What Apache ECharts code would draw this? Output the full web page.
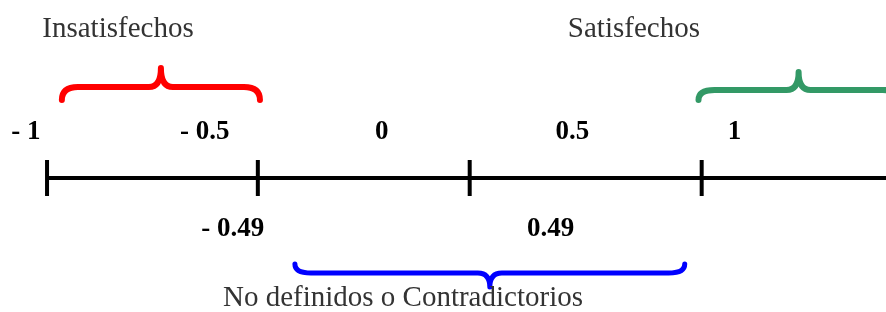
<!DOCTYPE html>
<html>
<head>
<meta charset="utf-8">
<script src="https://cdn.jsdelivr.net/npm/echarts@6/dist/echarts.min.js"></script>
<style>
  html, body { margin: 0; padding: 0; background: #fff; }
  #main { width: 886px; height: 312px; }
</style>
</head>
<body>
<div id="main"></div>
<script>
// schematic axis: one unit ~ one segment of the number line
const tickPos = [0, 0.995, 1.995, 3.09]
const lineEnd = 4

const topLabels = ['- 1', '- 0.5', '0', '0.5', '1']
const topLabelPos = [-0.1, 0.745, 1.58, 2.48, 3.245]
const bottomLabels = ['- 0.49', '0.49']
const bottomLabelPos = [0.877, 2.377]

const groupNames = ['Insatisfechos', 'Satisfechos', 'No definidos o Contradictorios']
const groupNamePos = [[0.335, 2.97], [2.77, 2.97], [1.68, -2.4]]

// brace: [start, end, endY, barY, tipY]
const braceRed = [0.07, 1.005, 1.56, 1.82, 2.2]
const braceGreen = [3.075, 4.02, 1.56, 1.76, 2.12]
const braceBlue = [1.17, 3.01, -1.72, -1.9, -2.18]
const braceColors = ['#ff0000', '#339966', '#0000ff']

const fontFamily = '"Liberation Serif", "Times New Roman", serif'

const myChart = echarts.init(document.getElementById('main'))

const labelSeries = (name, texts, points, style) => ({
  type: 'scatter',
  name: name,
  symbolSize: 0,
  silent: true,
  itemStyle: { opacity: 1 },
  data: texts.map((t, i) => ({ value: points[i], name: t })),
  label: Object.assign({
    show: true,
    position: [0, 0],
    align: 'center',
    verticalAlign: 'middle',
    formatter: p => p.name,
    fontFamily: fontFamily
  }, style)
})

const renderBrace = (params, api) => {
  const a = api.coord([api.value(0), api.value(2)])
  const b = api.coord([api.value(1), api.value(2)])
  const h = api.coord([api.value(0), api.value(3)])[1]
  const t = api.coord([api.value(0), api.value(4)])[1]
  const x0 = a[0], x1 = b[0], ye = a[1], xm = (x0 + x1) / 2
  const r = 16, r2 = 12
  const d = 'M' + x0 + ' ' + ye +
    ' Q' + x0 + ' ' + h + ' ' + (x0 + r) + ' ' + h +
    ' L' + (xm - r2) + ' ' + h +
    ' Q' + xm + ' ' + h + ' ' + xm + ' ' + t +
    ' Q' + xm + ' ' + h + ' ' + (xm + r2) + ' ' + h +
    ' L' + (x1 - r) + ' ' + h +
    ' Q' + x1 + ' ' + h + ' ' + x1 + ' ' + ye
  return {
    type: 'path',
    shape: { pathData: d },
    style: {
      fill: 'none',
      stroke: braceColors[params.dataIndex],
      lineWidth: params.dataIndex === 2 ? 5 : 6,
      lineCap: 'round',
      lineJoin: 'round'
    }
  }
}

const option = {
  animation: false,
  backgroundColor: '#fff',
  grid: { left: 0, right: 0, top: 0, bottom: 0 },
  xAxis: { type: 'value', min: -0.222, max: 3.96, show: false },
  yAxis: { type: 'value', min: -2.68, max: 3.56, show: false },
  series: [
    {
      type: 'line',
      data: [[tickPos[0], 0], [lineEnd, 0]],
      symbol: 'none',
      lineStyle: { color: '#000', width: 4 },
      silent: true
    },
    {
      type: 'scatter',
      symbol: 'rect',
      symbolSize: [4, 36],
      itemStyle: { color: '#000', opacity: 1 },
      data: tickPos.map(p => [p, 0]),
      silent: true
    },
    {
      type: 'custom',
      renderItem: renderBrace,
      clip: false,
      data: [braceRed, braceGreen, braceBlue],
      silent: true
    },
    labelSeries('top', topLabels, topLabelPos.map(p => [p, 0.92]),
      { fontSize: 27, fontWeight: 'bold', color: '#000' }),
    labelSeries('bottom', bottomLabels, bottomLabelPos.map(p => [p, -1.02]),
      { fontSize: 27, fontWeight: 'bold', color: '#000' }),
    labelSeries('groups', groupNames, groupNamePos,
      { fontSize: 29, color: '#333' })
  ]
}

myChart.setOption(option)
</script>
</body>
</html>
